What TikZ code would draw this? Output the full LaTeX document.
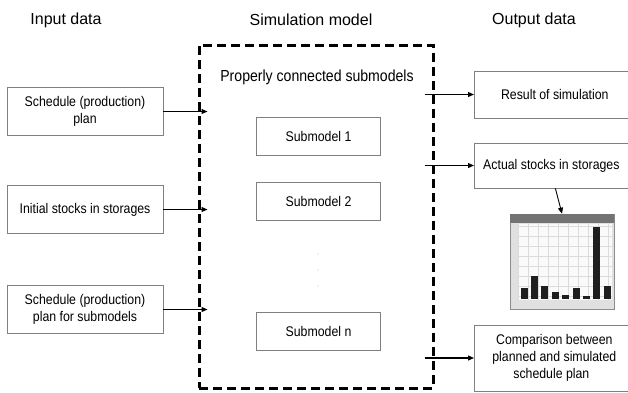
\documentclass[tikz,border=0pt]{standalone}
\usepackage{fontspec}
\setmainfont{Liberation Sans}
\newfontfamily\narrowfont{Liberation Sans}[FakeStretch=0.88]
\usetikzlibrary{arrows.meta}

\begin{document}
\begin{tikzpicture}[x=1pt, y=-1pt, >={Triangle[length=6pt,width=5pt]},
  heading/.style={font=\fontsize{16}{19}\selectfont},
  databox/.style={
    % The shape:
    rectangle,
    % The size:
    minimum width=156pt, minimum height=48pt,
    % The border
    draw=black!50, line width=.7pt,
    % The text
    align=center, font=\narrowfont\fontsize{14}{17}\selectfont},
  subbox/.style={databox, minimum width=124pt, minimum height=38pt},
  flow/.style={->, line width=1.1pt}]

    \clip (0,0) rectangle (628,392);

    \node[heading] (intitle) at (66,20) {Input data};
    \node[heading] (simtitle) at (311,20) {Simulation model};
    \node[heading] (outtitle) at (534,20) {Output data};

    % the simulation model
    \node[draw, line width=3pt, dash pattern=on 9pt off 5pt,
      minimum width=234pt, minimum height=343pt] (sim) at (316,216.5) {};
    \node[font=\narrowfont\fontsize{16}{19}\selectfont] (conn) at (317,77)
      {Properly connected submodels};
    \node[subbox] (sub1) at (318.5,136) {Submodel 1};
    \node[subbox] (sub2) at (318.5,201) {Submodel 2};
    \node[subbox] (subn) at (318.5,331.5) {Submodel n};
    \foreach \y in {254,270,286}{
      \fill[black!25] (318,\y) circle (.6);
    }

    % input data
    \node[databox] (in1) at (85,111.5) {Schedule (production)\\plan};
    \node[databox] (in2) at (85,209.5) {Initial stocks in storages};
    \node[databox] (in3) at (85,309.5) {Schedule (production)\\plan for submodels};
    \foreach \n in {in1,in2,in3}{
      \draw[flow] (\n.east) -- ([xshift=10pt]\n.east -| sim.west);
    }

    % output data
    \node[databox, anchor=west, minimum width=160pt, minimum height=47pt]
      (res) at (474,94.5) {~~Result of simulation\hspace*{6pt}};
    \node[databox, anchor=west, minimum width=160pt, minimum height=45pt]
      (act) at (474,165.5) {Actual stocks in storages\hspace*{6pt}};
    \node[databox, anchor=west, minimum width=160pt, minimum height=66pt]
      (cmp) at (474,358) {Comparison between\\planned and simulated\\schedule plan\hspace*{6pt}};
    \foreach \n in {res,act,cmp}{
      \draw[flow] ([xshift=-10pt]\n.west -| sim.east) -- (\n.west);
    }

    % chart window
    \node[draw=black!45, fill=black!12, line width=.6pt,
      minimum width=104pt, minimum height=95pt] (chart) at (562,261.5) {};
    \fill[black!55] (chart.north west) rectangle ([yshift=-9pt]chart.north east);
    \fill[black!2] (518,224) rectangle (612,300);
    \foreach \x in {518,528,...,612}{
      \draw[black!14, line width=.4pt] (\x,224) -- (\x,300);
    }
    \foreach \y in {226,236,...,300}{
      \draw[black!14, line width=.4pt] (518,\y) -- (612,\y);
    }
    \foreach \i/\h in {0/11,1/23,2/13,3/7,4/4,5/11,6/3,7/72,8/13}{
      \fill[black!88] (520.5 + 10.4*\i,299) rectangle ++(7,-\h);
    }
    \draw[flow, line width=.9pt] ([xshift=1pt]act.south) -- (chart.north);

\end{tikzpicture}
\end{document}
